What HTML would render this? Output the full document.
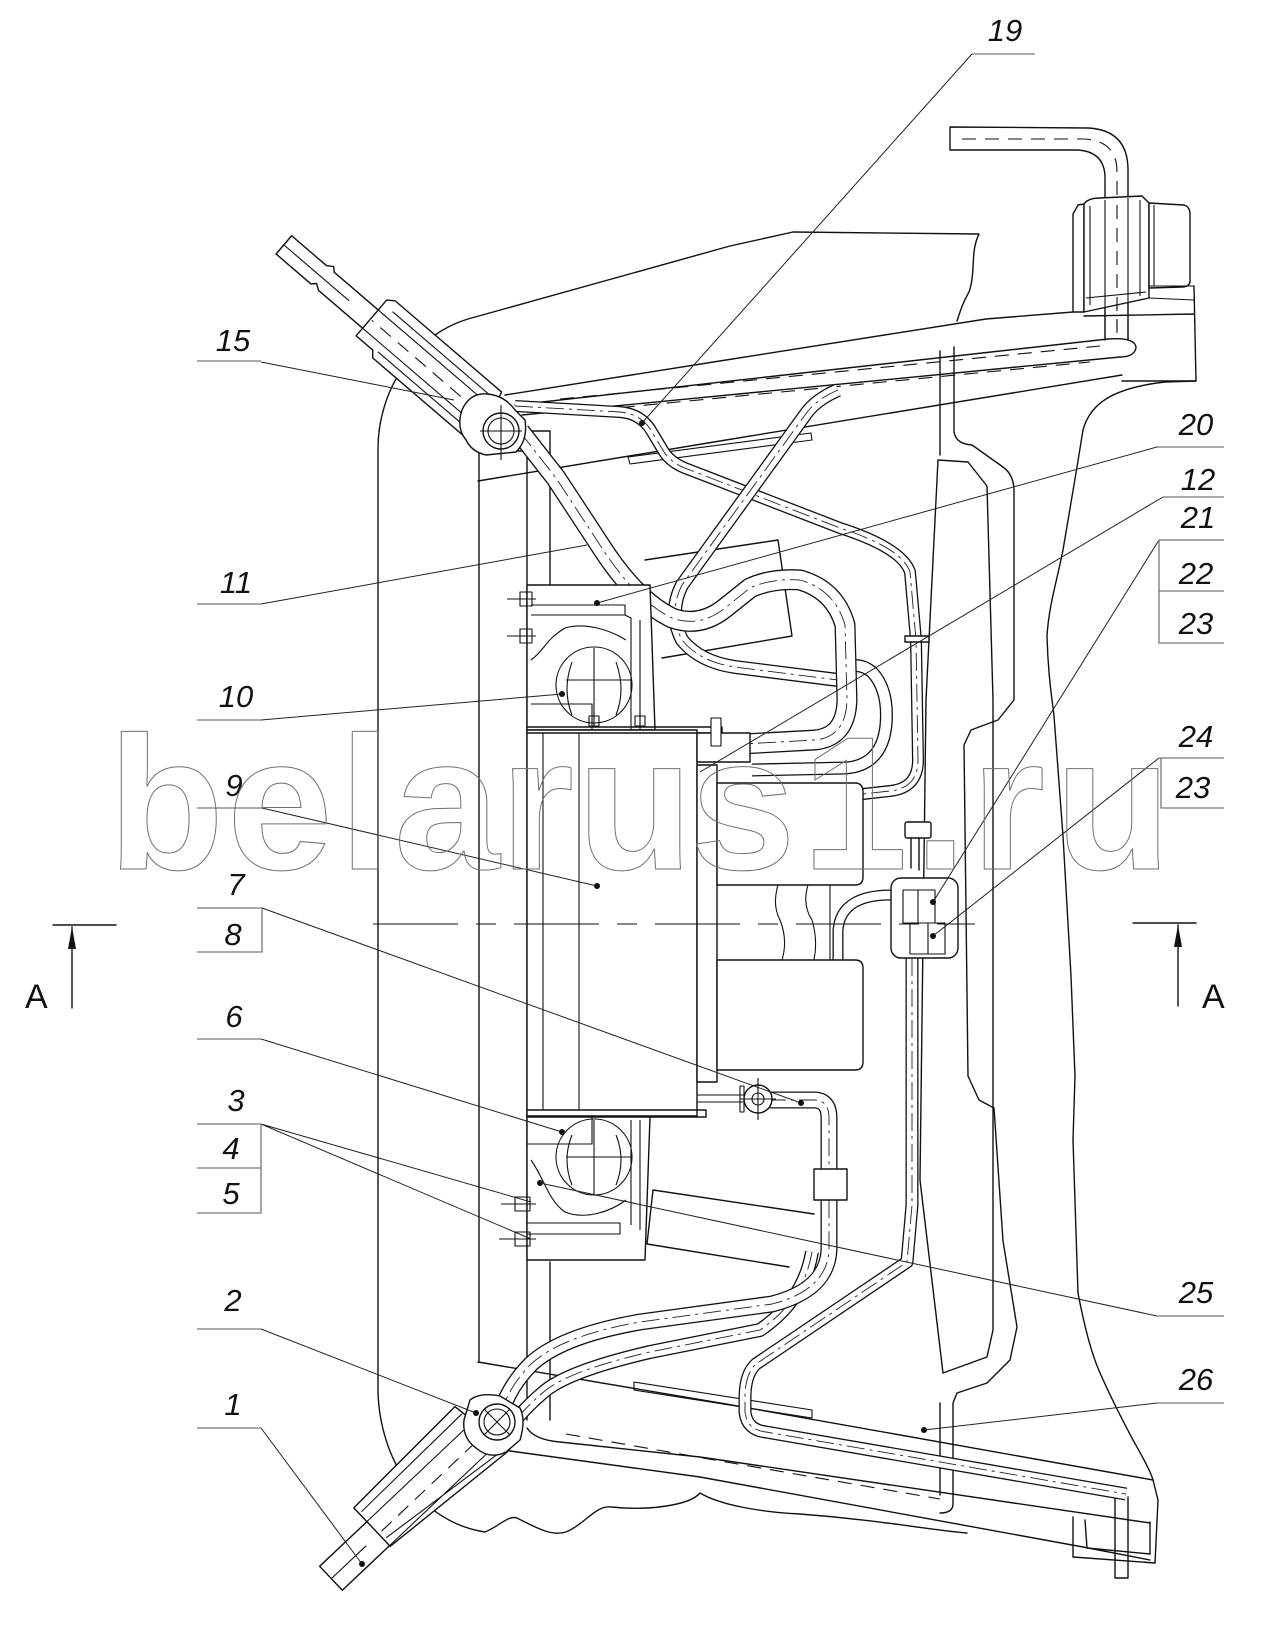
<!DOCTYPE html>
<html><head><meta charset="utf-8"><style>
html,body{margin:0;padding:0;background:#fff}
svg{display:block}
.l{fill:none;stroke:#111;stroke-width:1.4;stroke-linejoin:round;stroke-linecap:round}
.t{fill:none;stroke:#111;stroke-width:1.1;stroke-linejoin:round}
.ld{fill:none;stroke:#222;stroke-width:1}
.ul{fill:none;stroke:#777;stroke-width:1.3}
.ds{stroke-dasharray:14 9}
.dd{stroke-dasharray:85 18 20 18}
.w{fill:#fff}
.po{fill:none;stroke:#111;stroke-linejoin:round}
.pi{fill:none;stroke:#fff;stroke-linejoin:round}
.pc{fill:none;stroke:#222;stroke-width:0.9;stroke-dasharray:18 5 3 5}
.lab{font-family:"Liberation Sans",sans-serif;font-style:italic;font-size:31px;fill:#111;text-anchor:middle}
.wm{font-family:"Liberation Sans",sans-serif;font-weight:bold;font-size:190px;fill:none;stroke:#707070;stroke-width:1}
.aa{font-family:"Liberation Sans",sans-serif;font-size:34px;fill:#111}
</style></head><body>
<svg width="1276" height="1626" viewBox="0 0 1276 1626" xmlns="http://www.w3.org/2000/svg">
<defs>
<path id="pA" d="M515,406 L620,412 Q642,414 652,432 L664,452 Q672,464 690,470 L840,528 Q902,548 910,572 L916,640 L918,760 Q918,788 890,791 L863,794"/>
<path id="pB" d="M520,432 L556,478 L600,545 Q635,600 672,618 Q700,628 725,608 L750,588 Q772,578 800,580 Q835,590 845,625 L847,700 Q846,737 815,740 L742,744"/>
<path id="pC" d="M838,390 Q815,400 805,415 L682,585 Q668,612 682,640 Q700,662 735,667 L838,680"/>
<path id="pE" d="M752,770 L846,768 Q882,765 886,725 Q889,690 872,672 Q862,664 852,666"/>
<path id="pF" d="M768,1100 L814,1100 Q829,1100 829,1118 L829,1250 Q827,1290 772,1304 L640,1322 Q560,1336 530,1365 Q506,1390 500,1418"/>
<path id="pG" d="M812,1252 Q804,1300 760,1330 L650,1352 Q572,1370 546,1390 Q522,1410 508,1430"/>
<path id="pH" d="M912,958 L912,1205 L907,1262 L756,1364 Q745,1374 745,1398 L745,1412 Q747,1430 766,1432 L1126,1494"/>
<path id="pJ" d="M891,895 C860,895 840,905 838,930 L838,962"/>
</defs>

<!-- frame outline -->
<path class="l" d="M378,1392 L378,449 C378,392 412,336 468,319 L730,246 L793,232 L979,234 C970,252 976,272 969,292 C963,302 960,312 957,321"/>
<path class="l" d="M378,1392 C380,1460 420,1522 485,1532 C500,1526 508,1515 517,1518 C540,1530 553,1536 566,1532 C585,1524 596,1505 611,1507 C650,1511 690,1505 700,1493 C720,1505 760,1512 800,1514 C880,1520 930,1530 967,1533"/>
<path class="l" d="M1196,381 L1165,382 C1112,388 1090,404 1083,430 L1077,467 L1063,550 C1056,585 1049,605 1047,636 C1048,675 1052,698 1054,716 L1063,836 L1071,976 L1075,1076 L1073,1140 L1078,1293 C1085,1330 1092,1355 1100,1373 C1112,1400 1125,1425 1133,1440 C1143,1458 1150,1470 1153,1480 L1158,1500 L1155,1563"/>

<!-- vertical plate lines -->
<path class="l" d="M479,451 L479,1362 M527,451 L527,1420 M550,431 L550,585 M550,1262 L550,1420 M479,451 L527,451 M527,431 L550,431"/>

<!-- upper rails -->
<path class="l" d="M505,395 L726,360 L986,319 L1073,312"/>
<path class="l" d="M515,405 L1108,339 Q1136,337 1136,348 Q1134,357 1120,357 L522,415"/>
<path class="t ds" d="M560,399 L1100,346"/>
<path class="t ds" d="M575,412 L1090,362"/>
<path class="l" d="M478,481 L726,440 L1122,375"/>
<path class="t" d="M628,457 L811,433 L812,440 L630,464 Z"/>
<!-- rail bracket top right -->
<path class="l" d="M1084,316 L1194,314 M1194,286 L1196,381 M1122,381 L1196,381"/>
<!-- top-right L pipe -->
<path class="l" d="M950,127 L1088,128 Q1128,130 1128,170 L1128,340 M950,150 L1078,150 Q1105,152 1105,178 L1105,340 M950,127 L950,150"/>
<path class="t ds" d="M962,139 L1085,139 Q1117,141 1117,172 L1117,335"/>
<!-- block -->
<path class="l w" d="M1073,214 L1078,205 L1084,204 L1084,312 L1073,312 Z"/>
<path class="l w" d="M1084,204 Q1088,198 1100,198 L1142,196 L1149,203 L1149,298 L1084,312 Z"/>
<path class="l w" d="M1149,203 L1184,205 Q1190,207 1190,214 L1190,282 Q1189,287 1182,287 L1149,288 Z"/>
<path class="t" d="M1090,206 L1090,305 M1140,200 L1140,296 M1154,205 L1154,286 M1149,286 L1194,286 M1149,298 L1194,300 M1086,298 L1146,292"/>
<path class="t" d="M1105,200 L1105,340 M1128,198 L1128,340"/>
<path class="t ds" d="M1117,205 L1117,330"/>

<!-- lower rails -->
<path class="l" d="M478,1362 L726,1404 L1153,1480"/>
<path class="l" d="M527,1428 Q535,1440 560,1442 L700,1457 L1150,1523"/>
<path class="t ds" d="M566,1434 L726,1462 L940,1499"/>
<path class="l" d="M510,1451 L700,1477 L1083,1547 L1150,1560"/>
<path class="t" d="M634,1382 L812,1410 L812,1418 L634,1390 Z"/>
<!-- bottom right bracket -->
<path class="l" d="M1073,1517 L1073,1557 L1155,1563 M1085,1520 L1087,1548 L1150,1554 L1150,1522 M1115,1497 L1115,1578 M1128,1497 L1128,1578 M1115,1578 L1128,1578"/>

<!-- fender and supports -->
<path class="l" d="M938,460 L968,462 L987,486 L993,700 L993,1330 L987,1357 L943,1373 L920,1180 L926,700 Z" fill="none"/>
<path class="l" d="M954,347 L954,432 Q956,444 972,445 L1003,467 Q1014,475 1014,491 L1014,700 L998,720 L971,730 L964,745 L968,1076 L979,1100 L994,1108 L1003,1241 L1017,1327 L1010,1360 L987,1383 L957,1393 L953,1403 L953,1505 Q952,1513 940,1513"/>
<path class="l" d="M940,351 L940,455 M940,1403 L940,1495"/>

<!-- slanted block behind upper bracket -->
<path class="l" d="M645,560 L778,540 L792,636 L662,658"/>

<!-- pipes (double line) -->
<use href="#pA" class="po" stroke-width="12"/><use href="#pA" class="pi" stroke-width="9.4"/><use href="#pA" class="pc"/>
<use href="#pC" class="po" stroke-width="14"/><use href="#pC" class="pi" stroke-width="11.4"/><use href="#pC" class="pc"/>
<use href="#pE" class="po" stroke-width="13"/><use href="#pE" class="pi" stroke-width="10.4"/>
<use href="#pB" class="po" stroke-width="21"/><use href="#pB" class="pi" stroke-width="18.4"/><use href="#pB" class="pc"/>
<use href="#pH" class="po" stroke-width="13"/><use href="#pH" class="pi" stroke-width="10.4"/><use href="#pH" class="pc"/>
<use href="#pG" class="po" stroke-width="14"/><use href="#pG" class="pi" stroke-width="11.4"/><use href="#pG" class="pc"/>
<use href="#pF" class="po" stroke-width="17"/><use href="#pF" class="pi" stroke-width="14.4"/><use href="#pF" class="pc"/>
<use href="#pJ" class="po" stroke-width="11"/><use href="#pJ" class="pi" stroke-width="8.4"/>
<rect class="l w" x="814" y="1169" width="33" height="31"/>
<rect class="l w" x="905" y="636" width="24" height="6"/>

<!-- slanted block behind lower bracket -->
<path class="l" d="M653,1190 L814,1214 M647,1244 L789,1267 M653,1190 L647,1244"/>

<!-- upper bracket (10/20) -->
<path class="l w" d="M527,585 L650,585 L655,730 L527,730 Z"/>
<path class="t" d="M531,615 L625,615 L625,605 L531,605 M625,615 L631,618 L631,730 M640,620 L640,730 M531,704 L592,704 L592,730"/>
<path class="t" d="M531,660 C545,650 545,640 565,628 C585,622 610,630 626,640"/>
<circle class="t" cx="594" cy="685" r="38"/>
<path class="t" d="M566,680 L632,680 M594,648 L594,725 M572,662 Q562,690 572,715 M616,662 Q626,690 616,715"/>
<path class="t" d="M507,599 L536,599 M520,592 L520,606 L532,606 L532,592 Z M507,636 L536,636 M520,629 L520,643 L532,643 L532,629 Z"/>

<!-- main box 9 -->
<path class="l w" d="M527,730 L697,730 L697,1116 L527,1116 Z"/>
<path class="l" d="M527,727 L722,727 L722,733 L527,733 M527,1110 L706,1110 L706,1117 L527,1117"/>
<path class="t" d="M543,733 L543,1110 M579,733 L579,1110"/>
<path class="t" d="M594,712 L594,727 M589,716 L599,716 L599,726 L589,726 Z M640,712 L640,727 M635,716 L645,716 L645,726 L635,726 Z"/>
<rect class="l w" x="697" y="733" width="53" height="29"/>
<rect class="t w" x="711" y="718" width="10" height="28"/>
<path class="l w" d="M697,765 L717,765 L717,1082 L697,1082 Z"/>
<path class="l w" d="M717,783 L855,783 Q863,783 863,792 L863,877 Q863,885 855,885 L717,885 Z"/>
<path class="l w" d="M717,960 L855,960 Q863,960 863,968 L863,1062 Q863,1070 855,1070 L717,1070 Z"/>
<path class="t" d="M778,885 Q772,905 780,920 Q788,940 782,960 M808,885 Q802,905 812,920 Q818,940 814,960 M830,885 L830,960"/>
<!-- fitting 7/8 -->
<path class="t" d="M697,1095 L745,1095 M697,1102 L745,1102"/>
<circle class="l w" cx="758" cy="1099" r="14"/>
<circle class="t" cx="758" cy="1099" r="6"/>
<path class="t" d="M758,1078 L758,1120 M740,1099 L776,1099 M744,1086 L744,1112 L740,1112 L740,1086 Z"/>

<!-- lower bracket (3/4/5/6/25) -->
<path class="l w" d="M527,1117 L650,1117 L645,1260 L527,1260 Z"/>
<path class="t" d="M527,1144 L592,1144 L592,1117 M527,1223 L620,1223 L620,1234 L527,1234 M631,1120 L631,1225 M640,1120 L640,1230"/>
<path class="t" d="M531,1160 C545,1180 548,1200 565,1212 C585,1220 610,1212 626,1200"/>
<circle class="t" cx="594" cy="1157" r="38"/>
<path class="t" d="M566,1157 L632,1157 M594,1120 L594,1195 M572,1135 Q562,1160 572,1185 M616,1135 Q626,1160 616,1185"/>
<path class="t" d="M501,1204 L536,1204 M515,1197 L515,1211 L530,1211 L530,1197 Z M499,1239 L536,1239 M515,1232 L515,1246 L530,1246 L530,1232 Z"/>

<!-- receiver drier 22/23/24 -->
<rect class="l w" x="905" y="822" width="26" height="16" rx="2"/>
<path class="l" d="M911,838 L911,868 M919,838 L919,870"/>
<rect class="l w" x="891" y="878" width="67" height="80" rx="10"/>
<path class="t" d="M903,890 L935,890 L935,923 L903,923 Z M918,890 L918,923 M910,923 L945,923 L945,954 L910,954 Z M928,923 L928,954"/>

<!-- upper tube (15) -->
<g transform="translate(501,431) rotate(220.6)">
<path class="l w" d="M8,-28 L145,-28 L150,-22 L172,-22 L172,25 L165,30 L25,30 Z"/>
<path class="l" d="M172,-12 L230,-12 L236,-8 L240,-12 L286,-12 L286,12 L240,12 L234,16 L230,12 L172,12"/>
<path class="t" d="M30,-12 L172,-12 M30,12 L172,12 M200,0 L286,0 M20,-20 L145,-20 M20,20 L160,20"/>
<path class="t ds" d="M30,0 L170,0"/>
</g>
<!-- lower tube (1) -->
<g transform="translate(497,1422) rotate(136.6)">
<path class="l w" d="M10,-29 L163,-17 L163,36 L20,40 Z"/>
<path class="l" d="M163,-16 L228,-16 L228,17 L163,17"/>
<path class="t" d="M30,-16 L163,-16 M30,17 L163,17 M180,0 L228,0 M20,-24 L160,-8 M20,30 L160,28"/>
<path class="t ds" d="M30,0 L160,0"/>
</g>

<!-- joints -->
<path class="l w" d="M462,410 Q470,392 488,394 Q505,396 515,410 L525,420 Q528,440 516,452 L486,455 Q472,452 466,440 Q456,428 462,410 Z"/>
<circle class="l w" cx="501" cy="431" r="18"/>
<circle class="t" cx="501" cy="431" r="13"/>
<path class="t" d="M501,405 L501,460 M480,431 L522,431"/>
<path class="l w" d="M470,1400 Q480,1392 500,1396 L520,1408 Q526,1420 520,1440 L506,1452 Q490,1460 476,1448 Q462,1438 464,1420 Z"/>
<circle class="l w" cx="497" cy="1422" r="18"/>
<circle class="t" cx="497" cy="1422" r="13"/>
<path class="t" d="M484,1409 L510,1435 M510,1409 L484,1435"/>

<!-- section line A-A -->
<path class="t dd" d="M373,924 L975,924" stroke-width="1.2"/>
<path class="l" d="M53,925 L116,925 M72,927 L72,1008" stroke-width="2"/>
<path d="M72,927 L68,949 L76,949 Z" fill="#111"/>
<text class="aa" x="25" y="1008">A</text>
<path class="l" d="M1133,923 L1196,923 M1178,925 L1178,1006" stroke-width="2"/>
<path d="M1178,925 L1174,947 L1182,947 Z" fill="#111"/>
<text class="aa" x="1202" y="1008">A</text>

<!-- leaders -->
<path class="ld" d="M261,362 L454,400 M972,54 L642,423 M261,604 L587,545 M261,720 L562,694 M262,808 L597,886 M262,908 L801,1103 M261,1039 L562,1132 M261,1124 L531,1202 M261,1124 L531,1239 M261,1329 L476,1413 M261,1428 L362,1564"/>
<path class="ld" d="M1157,447 L597,603 M1163,497 L700,772 M1159,540 L933,902 M1159,758 L933,936 M1157,1316 L540,1183 M1157,1403 L924,1430"/>
<g fill="#111">
<circle cx="642" cy="423" r="3"/><circle cx="597" cy="603" r="3"/><circle cx="562" cy="694" r="3"/><circle cx="597" cy="886" r="3"/>
<circle cx="801" cy="1103" r="3"/><circle cx="562" cy="1132" r="3"/><circle cx="540" cy="1183" r="3"/><circle cx="476" cy="1413" r="3"/>
<circle cx="362" cy="1564" r="3"/><circle cx="924" cy="1430" r="3"/><circle cx="933" cy="902" r="3"/><circle cx="933" cy="936" r="3"/>
</g>
<!-- label underlines -->
<path class="ul" d="M197,361 L261,361 M197,604 L261,604 M197,720 L261,720 M197,808 L262,808 M197,908 L262,908 L262,952 L197,952 M197,1039 L261,1039 M197,1124 L261,1124 L261,1213 L197,1213 M197,1168 L261,1168 M197,1329 L261,1329 M197,1428 L261,1428"/>
<path class="ul" d="M972,54 L1035,54 M1157,447 L1224,447 M1163,497 L1224,497 M1159,540 L1224,540 M1159,540 L1159,643 L1224,643 M1159,591 L1224,591 M1159,758 L1224,758 M1161,758 L1161,808 L1224,808 M1157,1316 L1224,1316 M1157,1403 L1224,1403"/>
<!-- labels -->
<text class="lab" x="233" y="351">15</text>
<text class="lab" x="236" y="593">11</text>
<text class="lab" x="236" y="707">10</text>
<text class="lab" x="234" y="796">9</text>
<text class="lab" x="236" y="895">7</text>
<text class="lab" x="233" y="945">8</text>
<text class="lab" x="234" y="1027">6</text>
<text class="lab" x="236" y="1111">3</text>
<text class="lab" x="231" y="1159">4</text>
<text class="lab" x="231" y="1204">5</text>
<text class="lab" x="233" y="1311">2</text>
<text class="lab" x="233" y="1415">1</text>
<text class="lab" x="1005" y="41">19</text>
<text class="lab" x="1196" y="435">20</text>
<text class="lab" x="1198" y="490">12</text>
<text class="lab" x="1198" y="528">21</text>
<text class="lab" x="1196" y="584">22</text>
<text class="lab" x="1196" y="634">23</text>
<text class="lab" x="1196" y="747">24</text>
<text class="lab" x="1193" y="798">23</text>
<text class="lab" x="1196" y="1303">25</text>
<text class="lab" x="1196" y="1390">26</text>

<!-- watermark -->
<text class="wm" x="108" y="869">b</text>
<text class="wm" x="227" y="869">e</text>
<text class="wm" x="339" y="869">l</text>
<text class="wm" x="394" y="869">a</text>
<text class="wm" x="500" y="869">r</text>
<text class="wm" x="577" y="869">u</text>
<text class="wm" x="690" y="869">s</text>
<text class="wm" x="802" y="869">1</text>
<text class="wm" x="914" y="869">.</text>
<text class="wm" x="971" y="869">r</text>
<text class="wm" x="1055" y="869">u</text>
</svg>
</body></html>
